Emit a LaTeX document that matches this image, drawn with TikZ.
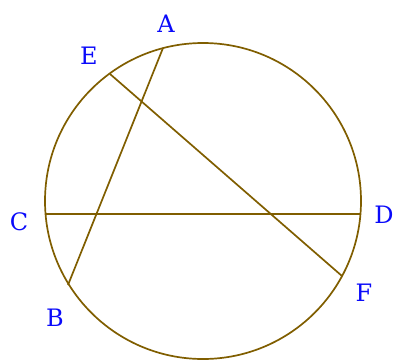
\documentclass[tikz,border=0pt]{standalone}
\usepackage{fontspec}
\setmainfont{DejaVu Serif}
\definecolor{geo}{RGB}{128,94,0}
\definecolor{lbl}{RGB}{10,10,250}
\begin{document}
\begin{tikzpicture}[x=1pt,y=-1pt,
  geoline/.style={draw=geo,line width=1.7pt},
  lab/.style={text=lbl,font=\fontsize{24}{24}\selectfont,inner sep=0pt}]
\useasboundingbox (0,0) rectangle (395,361);
\coordinate (O) at (203,201);
\draw[geoline] (O) circle (158);
\coordinate (A) at (163,48);
\coordinate (B) at (68,285);
\coordinate (E) at (110,74);
\coordinate (F) at (342,276);
\coordinate (C) at (45.5,214);
\coordinate (D) at (360.5,214);
\draw[geoline] (A) -- (B);
\draw[geoline] (E) -- (F);
\draw[geoline] (C) -- (D);
\node[lab] (lA) at (166,24) {A};
\node[lab] (lE) at (89,56) {E};
\node[lab] (lC) at (19,222) {C};
\node[lab] (lB) at (55,318) {B};
\node[lab] (lD) at (384,215) {D};
\node[lab] (lF) at (364,293) {F};
\end{tikzpicture}
\end{document}
